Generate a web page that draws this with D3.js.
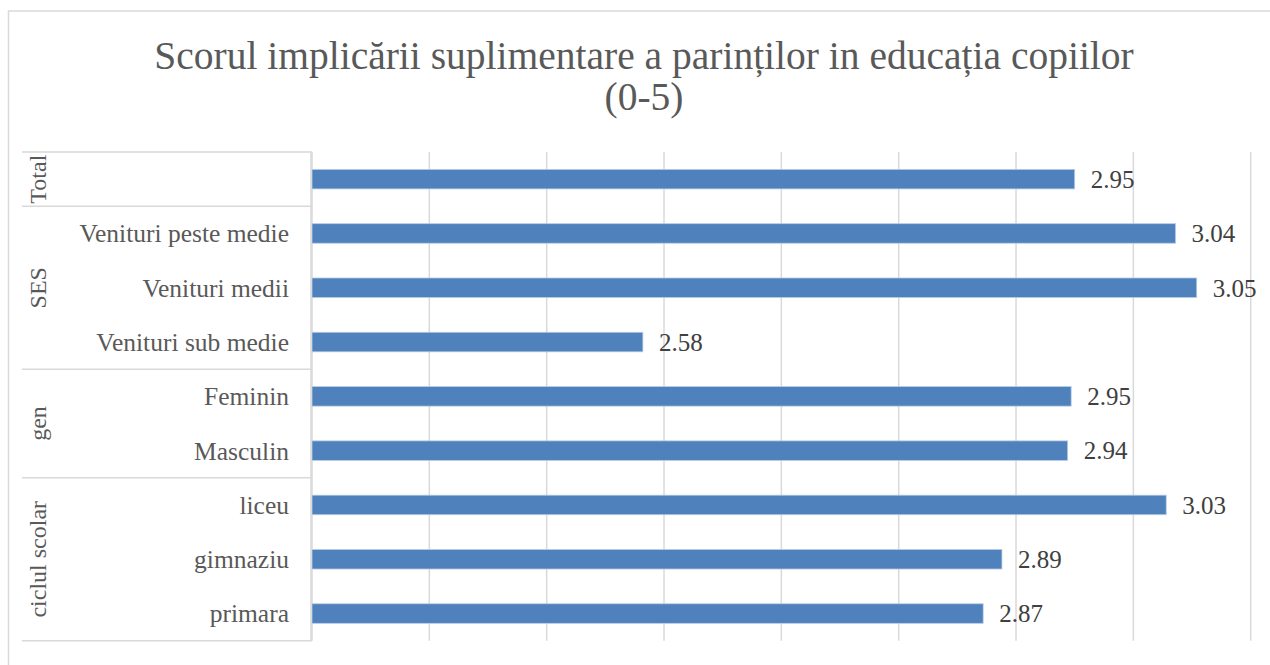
<!DOCTYPE html>
<html lang="ro">
  <head>
    <meta charset="UTF-8" />
    <title>Scorul implicarii</title>
    <style>
      body {
        margin: 0;
        overflow: hidden;
        background: #fff;
      }
      text {
        font-family: "Liberation Serif", "DejaVu Serif", serif;
      }
      .grid line {
        stroke: #d9d9d9;
        stroke-width: 1.5px;
      }
    </style>
    <script src="https://unpkg.com/d3@7.8.1/dist/d3.min.js"></script>
  </head>
  <body>
    <script>
      const { select, scaleLinear, scaleBand, range } = d3;

      // data
      const titleLines = ["Scorul implicării suplimentare a parinților in educația copiilor", "(0-5)"];
      const categories = ["", "Venituri peste medie", "Venituri medii", "Venituri sub medie", "Feminin", "Masculin", "liceu", "gimnaziu", "primara"];
      const values = [2.95, 3.036, 3.054, 2.582, 2.947, 2.944, 3.028, 2.888, 2.872];
      const groupNames = ["Total", "SES", "gen", "ciclul scolar"];
      const groupOf = [0, 1, 1, 1, 2, 2, 3, 3, 3];
      const xTicks = [2.3, 2.4, 2.5, 2.6, 2.7, 2.8, 2.9, 3.0, 3.1];

      const width = 1270;
      const height = 665;
      const plot = { left: 312, right: 1250.7, top: 152, bottom: 640.7 };
      const labelBoxLeft = 22;

      const svg = select("body")
        .append("svg")
        .attr("width", width)
        .attr("height", height);

      // chart border
      svg.append("rect")
        .attr("x", 8.5)
        .attr("y", 11)
        .attr("width", width)
        .attr("height", height)
        .attr("fill", "none")
        .attr("stroke", "#d9d9d9")
        .attr("stroke-width", 1.5);

      const x = scaleLinear()
        .domain([xTicks[0], xTicks[xTicks.length - 1]])
        .range([plot.left, plot.right]);

      const y = scaleBand()
        .domain(range(categories.length))
        .range([plot.top, plot.bottom])
        .paddingInner(0.64)
        .paddingOuter(0.32);

      const step = y.step();
      const rowTop = i => y(i) - y.paddingInner() * step / 2;

      // gridlines
      svg.append("g")
        .attr("class", "grid")
        .selectAll("line")
        .data(xTicks)
        .join("line")
        .attr("x1", d => x(d))
        .attr("x2", d => x(d))
        .attr("y1", plot.top)
        .attr("y2", plot.bottom);

      // title
      svg.append("g")
        .selectAll("text")
        .data(titleLines)
        .join("text")
        .attr("x", 644)
        .attr("y", (d, i) => 69 + i * 41)
        .attr("text-anchor", "middle")
        .attr("fill", "#595959")
        .attr("font-size", 39.5)
        .text(d => d);

      // bars
      svg.append("g")
        .selectAll("rect")
        .data(values)
        .join("rect")
        .attr("x", x(xTicks[0]))
        .attr("y", (d, i) => y(i))
        .attr("width", d => x(d) - x(xTicks[0]))
        .attr("height", y.bandwidth())
        .attr("fill", "#4f81bd")
        .attr("stroke", "#b9cde5")
        .attr("stroke-width", 0.8);

      // value labels
      svg.append("g")
        .selectAll("text")
        .data(values)
        .join("text")
        .attr("x", d => x(d) + 16)
        .attr("y", (d, i) => y(i) + y.bandwidth() / 2)
        .attr("dy", "0.35em")
        .attr("fill", "#404040")
        .attr("font-size", 25)
        .text(d => d.toFixed(2));

      // category labels
      svg.append("g")
        .selectAll("text")
        .data(categories)
        .join("text")
        .attr("x", 289)
        .attr("y", (d, i) => y(i) + y.bandwidth() / 2)
        .attr("dy", "0.35em")
        .attr("text-anchor", "end")
        .attr("fill", "#595959")
        .attr("font-size", 25.5)
        .text(d => d);

      // group boxes
      const groups = groupNames.map((name, g) => {
        const idx = groupOf.map((v, i) => v === g ? i : -1).filter(i => i >= 0);
        const first = idx[0], last = idx[idx.length - 1];
        return { name, top: rowTop(first), bottom: rowTop(last) + step };
      });

      const boundaries = [plot.top].concat(groups.map(g => g.bottom));
      svg.append("g")
        .selectAll("line")
        .data(boundaries)
        .join("line")
        .attr("x1", labelBoxLeft)
        .attr("x2", plot.left)
        .attr("y1", d => d)
        .attr("y2", d => d)
        .attr("stroke", "#d9d9d9")
        .attr("stroke-width", 1.5);

      svg.append("line")
        .attr("x1", plot.left - 1)
        .attr("x2", plot.left - 1)
        .attr("y1", plot.top)
        .attr("y2", plot.bottom)
        .attr("stroke", "#d9d9d9")
        .attr("stroke-width", 1.5);

      svg.append("g")
        .selectAll("text")
        .data(groups)
        .join("text")
        .attr("transform", d => `translate(38, ${(d.top + d.bottom) / 2}) rotate(-90)`)
        .attr("dy", "0.35em")
        .attr("text-anchor", "middle")
        .attr("fill", "#595959")
        .attr("font-size", 24)
        .text(d => d.name);
    </script>
  </body>
</html>
